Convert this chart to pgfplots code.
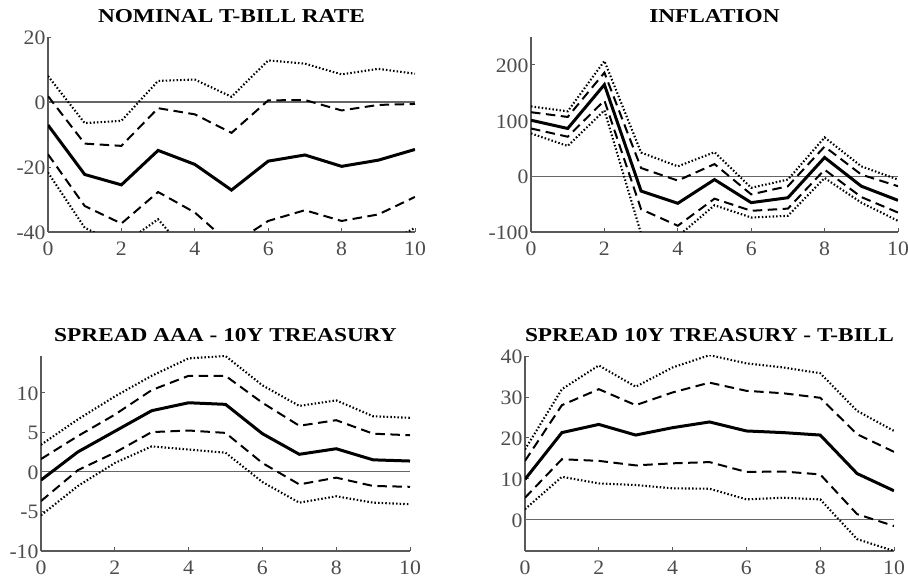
\documentclass[border=0pt]{standalone}
\usepackage{fontspec}
\setmainfont{Liberation Serif}[FakeStretch=1.19]
\newfontfamily\tickfont{Liberation Serif}[FakeStretch=1.06]
\usepackage{pgfplots}
\pgfplotsset{compat=1.18}

\pgfplotsset{
  irf/.style={
    scale only axis, width=367pt, height=195pt,
    xmin=0, xmax=10, xtick={0,2,...,10}, enlargelimits=false,
    axis x line=bottom, axis y line=left,
    axis line style={-, draw=black!65, line width=1.1pt},
    every tick/.style={draw=black!65, line width=0.9pt},
    major tick length=3.5pt, tick align=inside,
    ticklabel style={text=black!70, font=\tickfont\fontsize{20.5}{22}\selectfont},
    xticklabel style={yshift=-6.5pt},
    yticklabel style={xshift=1pt, yshift=-1pt},
    /pgf/number format/assume math mode=true,
    title style={at={(0.5,1)}, anchor=base, yshift=8.5pt,
      font=\fontsize{19.6}{22}\selectfont\bfseries},
  },
  mid/.style={black, line width=3pt},
  band/.style={black, line width=2pt, dash pattern=on 9.5pt off 5.5pt},
  ext/.style={black, line width=2.1pt, dash pattern=on 1.5pt off 2.1pt},
  zero/.style={black!60, line width=1.2pt},
}

\begin{document}
\begin{tikzpicture}
\useasboundingbox (0,0) rectangle (908pt,578pt);

% top left
\begin{axis}[irf, at={(48pt,346pt)}, anchor=south west,
  title={NOMINAL T-BILL RATE}, ymin=-40, ymax=20,
  ytick={-40,-20,0,20}, yticklabels={-40,-20,0,20}]
\addplot[zero] coordinates {(0,0) (10,0)};
\addplot[mid] coordinates {(0,-7.1) (1,-22.3) (2,-25.5) (3,-14.9) (4,-19.2) (5,-27.1) (6,-18.2) (7,-16.3) (8,-19.8) (9,-17.9) (10,-14.6)};
\addplot[band] coordinates {(0,1.8) (1,-12.8) (2,-13.5) (3,-1.9) (4,-3.8) (5,-9.5) (6,0.5) (7,0.6) (8,-2.6) (9,-0.9) (10,-0.6)};
\addplot[band] coordinates {(0,-16.1) (1,-32) (2,-37.4) (3,-27.7) (4,-34) (5,-44) (6,-36.6) (7,-33.3) (8,-36.6) (9,-34.6) (10,-29.2)};
\addplot[ext] coordinates {(0,8) (1,-6.5) (2,-5.8) (3,6.5) (4,6.9) (5,1.6) (6,12.8) (7,11.8) (8,8.5) (9,10.2) (10,8.7)};
\addplot[ext] coordinates {(0,-21.7) (1,-38.7) (2,-44) (3,-36.1) (4,-49) (5,-55) (6,-50) (7,-48) (8,-47) (9,-45) (10,-38.7)};
\end{axis}

% top right
\begin{axis}[irf, at={(531pt,346pt)}, anchor=south west,
  title={INFLATION}, ymin=-100, ymax=250,
  ytick={-100,0,100,200}, yticklabels={-100,0,100,200}]
\addplot[zero] coordinates {(0,0) (10,0)};
\addplot[mid] coordinates {(0,100.6) (1,85.8) (2,164.5) (3,-26.6) (4,-48.5) (5,-5.9) (6,-47.3) (7,-38.5) (8,33.7) (9,-17.8) (10,-43.2)};
\addplot[band] coordinates {(0,115) (1,106.5) (2,186) (3,14.8) (4,-7.7) (5,21.9) (6,-32.5) (7,-17.8) (8,53.3) (9,3) (10,-17.8)};
\addplot[band] coordinates {(0,85.8) (1,71) (2,136) (3,-59.2) (4,-88.8) (5,-40.2) (6,-62) (7,-58) (8,11.8) (9,-37.3) (10,-65.1)};
\addplot[ext] coordinates {(0,125.4) (1,116.6) (2,207) (3,42.6) (4,17.8) (5,43.2) (6,-20.7) (7,-5.9) (8,69.8) (9,17.8) (10,-5.9)};
\addplot[ext] coordinates {(0,76.9) (1,54.4) (2,118.3) (3,-103) (4,-108) (5,-52) (6,-74) (7,-71) (8,-3) (9,-47.3) (10,-80)};
\end{axis}

% bottom left
\begin{axis}[irf, width=369pt, at={(41pt,27pt)}, anchor=south west,
  title={SPREAD AAA - 10Y TREASURY}, ymin=-10, ymax=14.6,
  ytick={-10,-5,0,5,10}, yticklabels={-10,-5,0,5,10}]
\addplot[zero] coordinates {(0,0) (10,0)};
\addplot[mid] coordinates {(0,-1.05) (1,2.5) (2,5.1) (3,7.7) (4,8.7) (5,8.5) (6,4.8) (7,2.2) (8,2.9) (9,1.5) (10,1.35)};
\addplot[band] coordinates {(0,1.6) (1,4.5) (2,7.2) (3,10.3) (4,12.1) (5,12.1) (6,8.7) (7,5.8) (8,6.5) (9,4.8) (10,4.6)};
\addplot[band] coordinates {(0,-3.7) (1,0.2) (2,2.4) (3,5.0) (4,5.2) (5,4.9) (6,1.1) (7,-1.6) (8,-0.75) (9,-1.8) (10,-1.9)};
\addplot[ext] coordinates {(0,3.4) (1,6.6) (2,9.5) (3,12.1) (4,14.3) (5,14.6) (6,10.9) (7,8.3) (8,9.0) (9,7.0) (10,6.8)};
\addplot[ext] coordinates {(0,-5.5) (1,-1.8) (2,1.1) (3,3.2) (4,2.8) (5,2.4) (6,-1.3) (7,-3.9) (8,-3.1) (9,-3.9) (10,-4.1)};
\end{axis}

% bottom right
\begin{axis}[irf, width=369pt, at={(525pt,27pt)}, anchor=south west,
  title={SPREAD 10Y TREASURY - T-BILL}, ymin=-7.6, ymax=40,
  ytick={0,10,20,30,40}, yticklabels={0,10,20,30,40}]
\addplot[zero] coordinates {(0,0) (10,0)};
\addplot[mid] coordinates {(0,9.9) (1,21.3) (2,23.3) (3,20.7) (4,22.5) (5,23.9) (6,21.7) (7,21.3) (8,20.7) (9,11.3) (10,7.1)};
\addplot[band] coordinates {(0,14.4) (1,28) (2,31.9) (3,28) (4,31.1) (5,33.5) (6,31.5) (7,30.9) (8,29.8) (9,20.9) (10,16.6)};
\addplot[band] coordinates {(0,5.4) (1,14.8) (2,14.4) (3,13.3) (4,13.8) (5,14.1) (6,11.7) (7,11.8) (8,11.1) (9,1.4) (10,-1.5)};
\addplot[ext] coordinates {(0,17.2) (1,31.9) (2,37.7) (3,32.5) (4,37.2) (5,40.2) (6,38.2) (7,37.2) (8,35.8) (9,26.6) (10,21.7)};
\addplot[ext] coordinates {(0,2.6) (1,10.5) (2,8.9) (3,8.5) (4,7.7) (5,7.6) (6,5.0) (7,5.4) (8,5.0) (9,-4.7) (10,-7.6)};
\end{axis}
\end{tikzpicture}
\end{document}
